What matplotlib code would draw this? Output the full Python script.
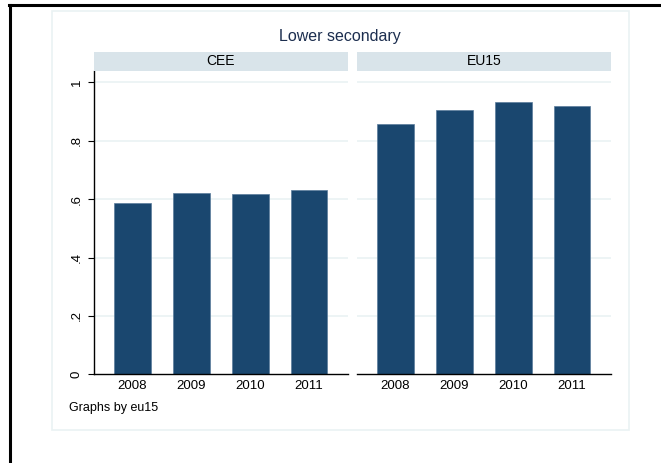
import matplotlib

matplotlib.use("Agg")
import matplotlib.pyplot as plt
from matplotlib.lines import Line2D
from matplotlib.patches import Rectangle

plt.rcParams["font.family"] = ["Liberation Sans", "DejaVu Sans"]

years = ["2008", "2009", "2010", "2011"]
groups = ["CEE", "EU15"]
cee_values = [0.586, 0.620, 0.617, 0.631]
eu15_values = [0.857, 0.905, 0.934, 0.919]
yticks = [0, 0.2, 0.4, 0.6, 0.8, 1.0]
ytick_labels = ["0", ".2", ".4", ".6", ".8", "1"]

W, H = 661, 463
BAR = "#1a476f"
STRIP = "#d9e4ea"
GRID = "#eaf2f3"
TITLE = "#1c2e4f"


def fx(px):
    return px / W


def fy(py):
    return 1 - py / H


fig = plt.figure(figsize=(W / 100, H / 100), dpi=100)
fig.patch.set_facecolor("white")

# outer graph region (kept behind the axes)
fig.patches.append(
    Rectangle((fx(52), fy(430)), fx(629) - fx(52), fy(11) - fy(430),
              transform=fig.transFigure, facecolor="white", edgecolor=GRID,
              lw=1.2, zorder=-10)
)
# black frame edges (top and left)
fig.lines.append(Line2D([fx(9), 1], [fy(5), fy(5)], transform=fig.transFigure, color="black", lw=2.2))
fig.lines.append(Line2D([fx(10), fx(10)], [fy(5), 0], transform=fig.transFigure, color="black", lw=2.2))

fig.text(fx(340), fy(36), "Lower secondary", ha="center", va="center", fontsize=11.5, color=TITLE)

panels = [(94, 347.5, cee_values), (357, 610.5, eu15_values)]
x = list(range(1, len(years) + 1))
for i, (left, right, vals) in enumerate(panels):
    ax = fig.add_axes([fx(left), fy(374.3), fx(right) - fx(left), fy(70.7) - fy(374.3)])
    ax.patch.set_alpha(0)
    ax.set_ylim(0, 1.04)
    ax.set_xlim(0.35, 4.65)
    for t in yticks[1:]:
        ax.axhline(t, color=GRID, lw=1.2, zorder=0)
    ax.bar(x, vals, width=0.62, color=BAR, edgecolor="#5a7c9c", linewidth=0.5, zorder=2)
    ax.set_xticks(x)
    ax.set_xticklabels(years, fontsize=9.5)
    ax.tick_params(axis="x", length=0, pad=4)
    for s in ["top", "right"]:
        ax.spines[s].set_visible(False)
    ax.spines["bottom"].set_linewidth(1.0)
    if i == 0:
        ax.set_yticks(yticks)
        ax.set_yticklabels(ytick_labels, fontsize=9.5, rotation=90, va="center")
        ax.tick_params(axis="y", length=4, width=0.8, pad=4)
        ax.spines["left"].set_linewidth(1.0)
    else:
        ax.set_yticks([])
        ax.spines["left"].set_visible(False)
    # strip with group label
    sax = fig.add_axes([fx(left), fy(70.7), fx(right) - fx(left), fy(51.7) - fy(70.7)])
    sax.set_facecolor(STRIP)
    sax.set_xticks([])
    sax.set_yticks([])
    for s in sax.spines.values():
        s.set_visible(False)
    sax.text(0.5, 0.5, groups[i], ha="center", va="center", fontsize=10, transform=sax.transAxes)

fig.text(fx(69), fy(408), "Graphs by eu15", ha="left", va="center", fontsize=9)

fig.savefig("out.png", dpi=100)
